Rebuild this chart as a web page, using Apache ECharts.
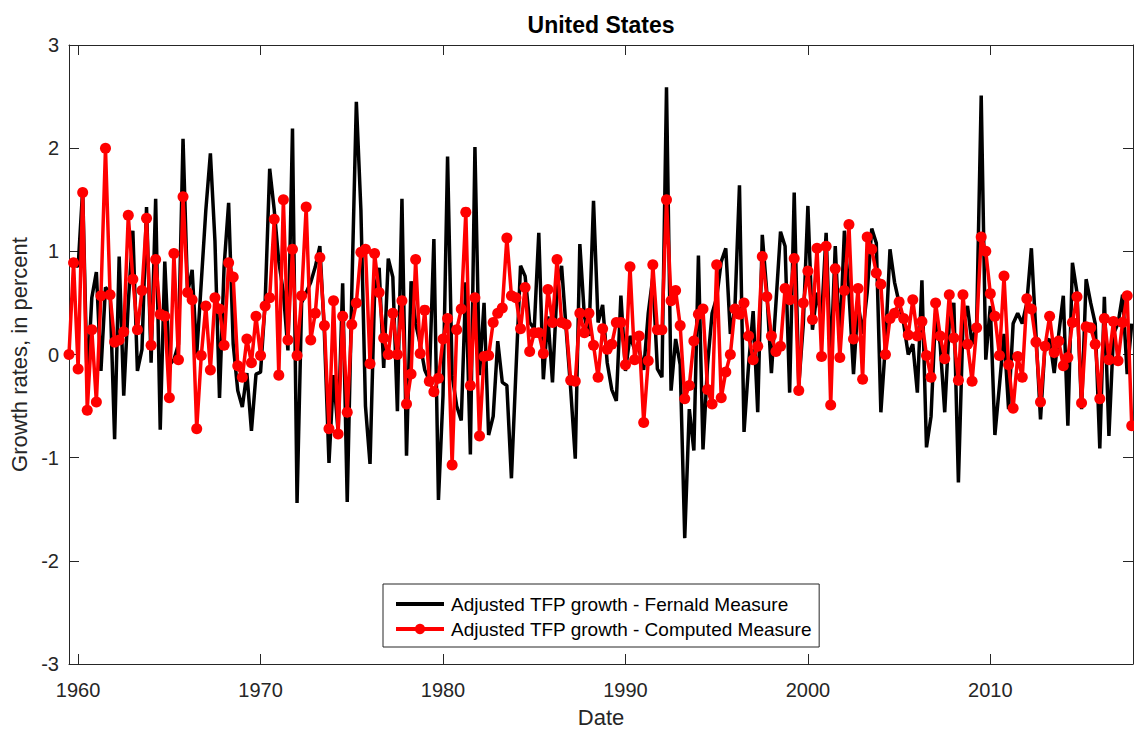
<!DOCTYPE html>
<html>
<head>
<meta charset="utf-8">
<script src="https://cdn.jsdelivr.net/npm/echarts@6/dist/echarts.min.js"></script>
<style>
html,body{margin:0;padding:0;background:#fff;}
#chart{width:1134px;height:733px;}
</style>
</head>
<body>
<div id="chart"></div>
<script>
// Quarterly observations, first quarter plotted at 1959.5, one step per quarter
const START_YEAR = 1959.5;
const STEP = 0.25;

const fernald = [
0.9,0.9,0.85,1.6,-0.3,0.55,0.8,-0.16,0.65,0.6,
-0.82,0.95,-0.4,0.5,1.2,-0.16,0.05,1.43,-0.08,1.51,
-0.73,0.9,-0.1,-0.05,0.1,2.09,0.6,0.82,0.0,0.7,
1.4,1.95,1.1,-0.42,0.85,1.47,0.1,-0.35,-0.51,-0.18,
-0.74,-0.19,-0.17,0.5,1.8,1.4,0.9,0.6,0.04,2.19,
-1.44,0.5,0.6,0.7,0.85,1.05,0.2,-1.05,-0.2,-0.75,
0.69,-1.43,0.6,2.45,1.4,-0.5,-1.06,0.6,0.84,-0.13,
0.93,0.75,-0.55,1.51,-0.98,0.71,0.3,0.1,-0.15,-0.25,
1.12,-1.41,-0.4,1.92,-0.2,-0.5,-0.64,0.7,-0.97,2.01,
-0.2,0.5,-0.78,-0.6,0.13,-0.27,-0.3,-1.2,-0.15,0.86,
0.76,0.31,0.25,1.18,-0.24,0.37,-0.27,0.63,0.86,0.24,
-0.34,-1.01,1.07,0.37,0.18,1.49,0.31,0.48,-0.08,-0.34,
-0.45,0.57,-0.16,0.18,0.05,0.05,-0.15,0.4,0.75,-0.14,
-0.22,2.59,-0.35,0.15,-0.1,-1.78,-0.53,-0.93,0.96,-0.92,
-0.1,0.4,0.55,0.9,1.03,0.2,0.45,1.64,-0.75,-0.1,
0.42,-0.56,1.16,0.6,-0.18,0.5,1.19,1.05,-0.37,1.57,
-0.3,0.3,1.44,0.24,0.6,0.35,1.18,-0.1,1.05,0.1,
1.2,0.6,-0.19,0.5,0.2,0.6,1.22,1.08,-0.56,0.1,
1.02,0.7,0.5,0.3,0.0,0.1,-0.37,0.72,-0.9,-0.6,
0.4,0.1,-0.56,0.3,0.5,-1.24,0.3,0.47,0.1,0.3,
2.51,-0.05,0.47,-0.78,-0.3,0.2,-0.53,0.3,0.4,0.3,
0.5,1.03,0.2,-0.63,0.1,0.15,-0.18,0.2,0.57,-0.69,
0.89,0.6,-0.53,0.73,0.5,0.3,-0.91,0.56,-0.79,0.2,
0.3,0.58,-0.19,0.3
];

const computed = [
0.0,0.89,-0.14,1.57,-0.54,0.24,-0.46,0.57,2.0,0.58,
0.12,0.14,0.22,1.35,0.73,0.24,0.62,1.32,0.09,0.92,
0.39,0.37,-0.42,0.98,-0.05,1.53,0.6,0.53,-0.72,-0.01,
0.47,-0.15,0.55,0.44,0.09,0.89,0.75,-0.11,-0.22,0.15,
-0.08,0.37,-0.01,0.47,0.55,1.31,-0.2,1.5,0.14,1.02,
-0.01,0.57,1.43,0.14,0.4,0.94,0.28,-0.72,0.52,-0.77,
0.37,-0.56,0.29,0.5,0.99,1.02,-0.09,0.98,0.6,0.16,
0.0,0.4,0.0,0.52,-0.48,-0.19,0.92,0.01,0.43,-0.26,
-0.36,-0.23,0.15,0.35,-1.07,0.24,0.44,1.38,-0.3,0.55,
-0.79,-0.02,-0.01,0.31,0.4,0.45,1.13,0.57,0.55,0.25,
0.65,0.03,0.21,0.21,0.01,0.63,0.31,0.92,0.31,0.29,
-0.25,-0.26,0.4,0.21,0.4,0.09,-0.22,0.25,0.05,0.1,
0.31,0.31,-0.1,0.85,-0.05,0.18,-0.66,-0.06,0.87,0.24,
0.24,1.5,0.52,0.62,0.28,-0.43,-0.3,0.13,0.39,0.44,
-0.34,-0.48,0.87,-0.42,-0.17,0.0,0.44,0.39,0.5,0.18,
-0.05,0.08,0.95,0.56,0.18,0.03,0.08,0.64,0.53,0.93,
-0.35,0.5,0.81,0.34,1.03,-0.02,1.05,-0.49,0.83,-0.03,
0.62,1.26,0.15,0.64,-0.24,1.14,1.02,0.79,0.68,0.0,
0.35,0.4,0.51,0.35,0.19,0.53,0.18,0.32,-0.01,-0.22,
0.5,0.18,-0.04,0.58,0.16,-0.25,0.58,0.1,-0.26,0.26,
1.14,1.0,0.59,0.37,-0.01,0.76,-0.1,-0.52,-0.02,-0.22,
0.54,0.44,0.12,-0.46,0.08,0.37,0.02,0.13,-0.11,-0.03,
0.31,0.56,-0.47,0.27,0.26,0.1,-0.43,0.35,-0.05,0.32,
-0.06,0.31,0.57,-0.69
];

const xTickYears = [1960, 1970, 1980, 1990, 2000, 2010];
const seriesNames = ['Adjusted TFP growth - Fernald Measure', 'Adjusted TFP growth - Computed Measure'];
const chartTitle = 'United States';
const xName = 'Date';
const yName = 'Growth rates, in percent';

const toPairs = arr => arr.map((v, i) => [START_YEAR + i * STEP, v]);

const AX = '#262626';
const FONT = 'Liberation Sans, Arial, Helvetica, sans-serif';
const X_MIN = 1959.5, X_MAX = 2017.82;

const chart = echarts.init(document.getElementById('chart'), null, {renderer: 'svg'});
const tickCommon = {show: true, inside: true, length: 10, lineStyle: {color: AX, width: 1}};
chart.setOption({
  animation: false,
  backgroundColor: '#ffffff',
  grid: {left: 69, right: 1, top: 45, bottom: 67, containLabel: false},
  graphic: [{
    type: 'text', x: 601, y: 25, z: 10,
    style: {text: chartTitle, font: 'bold 23px ' + FONT, fill: '#000', textAlign: 'center', textVerticalAlign: 'middle'}
  }],
  legend: {
    orient: 'vertical', left: 383, top: 584,
    padding: [10, 7, 8, 11],
    itemWidth: 48, itemHeight: 13, itemGap: 5,
    backgroundColor: '#fff', borderColor: AX, borderWidth: 1,
    selectedMode: false,
    textStyle: {fontFamily: FONT, fontSize: 19, color: '#000', lineHeight: 20, padding: [0, 0, 0, 2]},
    data: [
      {name: seriesNames[0], lineStyle: {width: 4, color: '#000'},
       itemStyle: {color: 'rgba(0,0,0,0)', borderWidth: 0, borderColor: 'rgba(0,0,0,0)'}},
      {name: seriesNames[1], lineStyle: {width: 4, color: '#ff0000'}}
    ]
  },
  xAxis: [{
    type: 'value', min: X_MIN, max: X_MAX, position: 'bottom',
    name: xName, nameLocation: 'middle', nameGap: 42,
    nameTextStyle: {fontFamily: FONT, fontSize: 22, color: AX},
    axisLine: {show: true, onZero: false, lineStyle: {color: AX, width: 1}},
    axisTick: Object.assign({customValues: xTickYears}, tickCommon),
    axisLabel: {customValues: xTickYears, fontFamily: FONT, fontSize: 20, color: AX, margin: 16, formatter: v => String(v)},
    splitLine: {show: false}
  }, {
    type: 'value', min: X_MIN, max: X_MAX, position: 'top',
    axisLine: {show: true, onZero: false, lineStyle: {color: AX, width: 1}},
    axisTick: Object.assign({customValues: xTickYears}, tickCommon),
    axisLabel: {show: false},
    splitLine: {show: false}
  }],
  yAxis: [{
    type: 'value', min: -3, max: 3, interval: 1, position: 'left',
    name: yName, nameLocation: 'middle', nameGap: 36,
    nameTextStyle: {fontFamily: FONT, fontSize: 22, color: AX},
    axisLine: {show: true, onZero: false, lineStyle: {color: AX, width: 1}},
    axisTick: tickCommon,
    axisLabel: {fontFamily: FONT, fontSize: 20, color: AX, margin: 10},
    splitLine: {show: false}
  }, {
    type: 'value', min: -3, max: 3, interval: 1, position: 'right',
    axisLine: {show: true, onZero: false, lineStyle: {color: AX, width: 1}},
    axisTick: tickCommon,
    axisLabel: {show: false},
    splitLine: {show: false}
  }],
  series: [{
    name: seriesNames[0], type: 'line', data: toPairs(fernald),
    xAxisIndex: 0, yAxisIndex: 0,
    symbol: 'none', lineStyle: {color: '#000', width: 3.5}, itemStyle: {color: '#000'},
    z: 2
  }, {
    name: seriesNames[1], type: 'line', data: toPairs(computed),
    xAxisIndex: 0, yAxisIndex: 0,
    symbol: 'circle', symbolSize: 11, showAllSymbol: true,
    lineStyle: {color: '#ff0000', width: 3.5}, itemStyle: {color: '#ff0000'},
    z: 3
  }]
});
</script>
</body>
</html>
